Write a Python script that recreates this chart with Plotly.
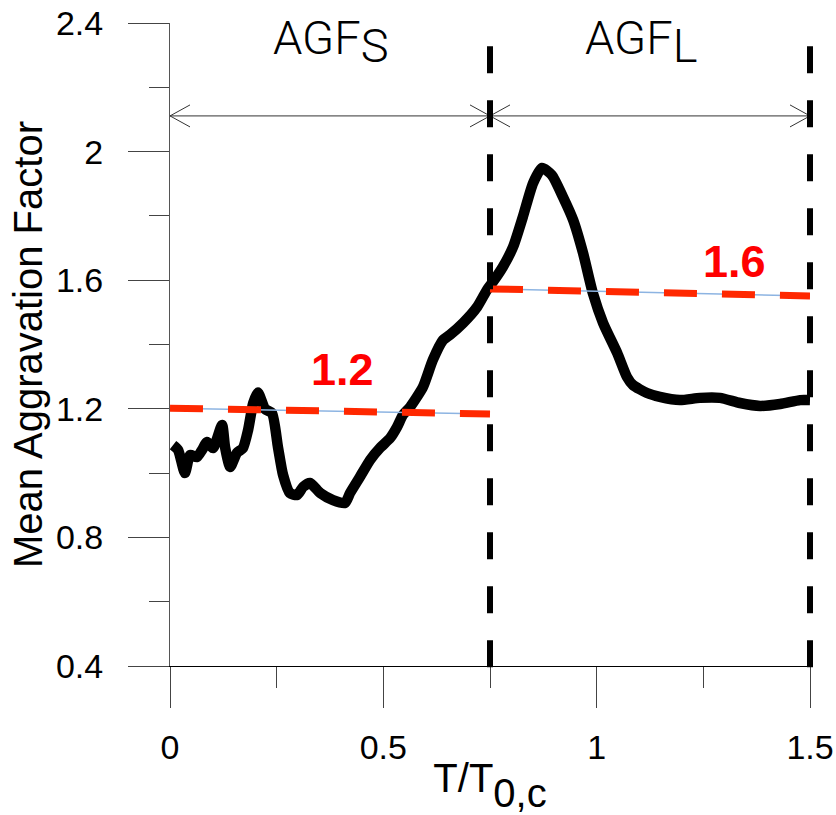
import plotly.graph_objects as go

# Mean aggravation factor against normalised period T/T0,c
t_ratio = [0.007, 0.019, 0.035, 0.047, 0.063, 0.075, 0.087, 0.101, 0.122, 0.129,
           0.141, 0.157, 0.171, 0.183, 0.195, 0.206, 0.223, 0.239, 0.253, 0.265,
           0.281, 0.298, 0.312, 0.328, 0.352, 0.382, 0.410, 0.422, 0.445, 0.469,
           0.492, 0.516, 0.532, 0.546, 0.563, 0.593, 0.616, 0.640, 0.656, 0.687,
           0.720, 0.743, 0.757, 0.780, 0.804, 0.827, 0.851, 0.872, 0.895, 0.921,
           0.945, 0.968, 0.991, 1.015, 1.048, 1.071, 1.085, 1.118, 1.148, 1.195,
           1.242, 1.289, 1.336, 1.383, 1.430, 1.477, 1.500]
agf_mean = [1.087, 1.072, 1.000, 1.056, 1.050, 1.072, 1.097, 1.078, 1.150, 1.081,
            1.019, 1.063, 1.078, 1.134, 1.218, 1.251, 1.199, 1.187, 1.081, 0.994,
            0.938, 0.932, 0.957, 0.969, 0.938, 0.916, 0.907, 0.938, 0.988, 1.041,
            1.078, 1.109, 1.143, 1.181, 1.206, 1.268, 1.352, 1.414, 1.430, 1.467,
            1.517, 1.570, 1.595, 1.641, 1.703, 1.797, 1.902, 1.949, 1.927, 1.859,
            1.787, 1.685, 1.560, 1.467, 1.374, 1.299, 1.274, 1.249, 1.237, 1.227,
            1.234, 1.234, 1.218, 1.209, 1.215, 1.227, 1.227]

# Period bands: short (S) and long (L)
band_edges = [0.0, 0.75, 1.5]
band_names = ["S", "L"]
# Averaged factor over each band (start / end of the fitted line)
band_fit_start = [1.202, 1.573]
band_fit_end = [1.184, 1.551]

x_range = [0.0, 1.5]
y_range = [0.4, 2.4]

W, H = 836, 815
M_L, M_R, M_T, M_B = 170, 26, 23, 149
px_x = (x_range[1] - x_range[0]) / (W - M_L - M_R)
px_y = (y_range[1] - y_range[0]) / (H - M_T - M_B)

ARROW_Y = 2.111
HEAD_DX = 20 * px_x
HEAD_DY = 11 * px_y

fig = go.Figure()

# main curve
fig.add_trace(go.Scatter(
    x=t_ratio, y=agf_mean, mode="lines",
    line=dict(color="black", width=10.5, shape="spline", smoothing=0.6),
    hoverinfo="skip"))

# band-average lines: thin blue fit with a red dashed overlay
for i in range(len(band_names)):
    xs = [band_edges[i], band_edges[i + 1]]
    ys = [band_fit_start[i], band_fit_end[i]]
    fig.add_trace(go.Scatter(x=xs, y=ys, mode="lines",
                             line=dict(color="#8DB4E2", width=1.5), hoverinfo="skip"))
    fig.add_trace(go.Scatter(x=xs, y=ys, mode="lines",
                             line=dict(color="#FF2800", width=7, dash="33px,25px"),
                             hoverinfo="skip"))

# double-headed dimension arrows over each band
ax, ay = [], []
for i in range(len(band_names)):
    a, b = band_edges[i], band_edges[i + 1]
    ax += [a, b, None,
           a + HEAD_DX, a, a + HEAD_DX, None,
           b - HEAD_DX, b, b - HEAD_DX, None]
    ay += [ARROW_Y, ARROW_Y, None,
           ARROW_Y + HEAD_DY, ARROW_Y, ARROW_Y - HEAD_DY, None,
           ARROW_Y + HEAD_DY, ARROW_Y, ARROW_Y - HEAD_DY, None]
fig.add_trace(go.Scatter(x=ax, y=ay, mode="lines",
                         line=dict(color="#333333", width=1), hoverinfo="skip"))

# dashed band boundaries (paper coordinates so the edge line is not clipped)
def to_paper_x(v):
    return (v - x_range[0]) / (x_range[1] - x_range[0])

def to_paper_y(v):
    return (v - y_range[0]) / (y_range[1] - y_range[0])

for edge in band_edges[1:]:
    fig.add_shape(type="line", xref="paper", yref="paper",
                  x0=to_paper_x(edge), x1=to_paper_x(edge),
                  y0=to_paper_y(2.328), y1=to_paper_y(0.392),
                  line=dict(color="black", width=6, dash="27px,27px"),
                  layer="above")

# value labels for the band averages
label_pos = [(0.405, 1.321), (1.324, 1.657)]
for i in range(len(band_names)):
    mean_val = (band_fit_start[i] + band_fit_end[i]) / 2
    fig.add_annotation(x=label_pos[i][0], y=label_pos[i][1], text=f"{mean_val:.1f}",
                       showarrow=False, xanchor="center", yanchor="middle",
                       font=dict(family="Liberation Sans", size=45, color="#FF0000",
                                 weight="bold"))

# band titles
title_x = [0.377, 1.104]
for i, name in enumerate(band_names):
    fig.add_annotation(x=title_x[i], y=2.344,
                       text=f"AGF<span style='baseline-shift:-8px'>{name}</span>",
                       showarrow=False, xanchor="center", yanchor="middle",
                       font=dict(family="Roboto", size=47, color="black", weight=300))

tick_font = dict(family="Liberation Sans", size=34, color="black")

fig.update_layout(
    width=W, height=H,
    margin=dict(l=M_L, r=M_R, t=M_T, b=M_B, pad=0, autoexpand=False),
    paper_bgcolor="white", plot_bgcolor="white",
    showlegend=False,
    xaxis=dict(
        range=x_range, tick0=0, dtick=0.5, automargin=False,
        showgrid=False, zeroline=False,
        showline=True, linecolor="black", linewidth=1,
        ticks="outside", ticklen=41, tickwidth=1, tickcolor="#444444",
        ticklabelstandoff=10,
        minor=dict(ticks="outside", ticklen=21, dtick=0.25, tickcolor="#444444",
                   tickwidth=1, showgrid=False),
        tickfont=tick_font,
        title=dict(text="T/T<span style='baseline-shift:-15px'>0,c</span>",
                   font=dict(family="Liberation Sans", size=40, color="black"),
                   standoff=6),
    ),
    yaxis=dict(
        range=y_range, tick0=0.4, dtick=0.4, automargin=False,
        showgrid=False, zeroline=False,
        showline=True, linecolor="#555555", linewidth=1,
        ticks="outside", ticklen=41, tickwidth=1, tickcolor="#444444",
        ticklabelstandoff=18,
        minor=dict(ticks="outside", ticklen=20, dtick=0.2, tickcolor="#444444",
                   tickwidth=1, showgrid=False),
        tickfont=tick_font,
        title=dict(text="Mean Aggravation Factor",
                   font=dict(family="Liberation Sans", size=40, color="black"),
                   standoff=0),
    ),
)

fig.write_html("out.html")
